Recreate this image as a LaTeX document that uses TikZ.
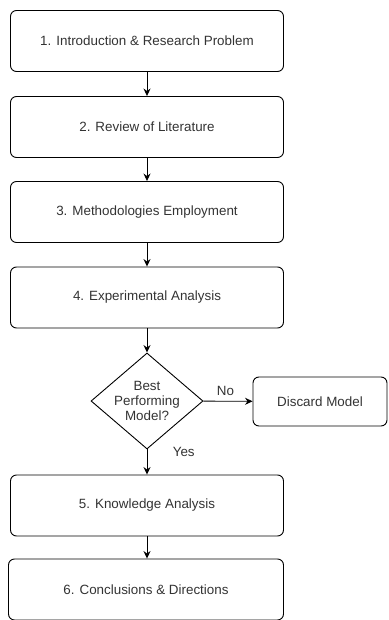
\documentclass[tikz,border=0pt]{standalone}
\usepackage{fontspec}
\setmainfont{Liberation Sans}
\usepackage{tikz}
\usetikzlibrary{shapes.geometric, arrows.meta}

\begin{document}
\begin{tikzpicture}[x=1pt, y=-1pt,
    stepbox/.style={draw, rounded corners=6pt, line width=0.9pt, minimum width=273pt, minimum height=61pt, inner sep=0pt, font=\fontsize{13.4}{15}\selectfont, text=black!80},
    decision/.style={draw, diamond, aspect=1.17, line width=0.9pt, minimum width=112pt, minimum height=96pt, inner sep=0pt, align=center, font=\fontsize{13.4}{15}\selectfont, text=black!80},
    flow/.style={-{Stealth[length=7.5pt, width=7pt]}, line width=0.9pt},
    lbl/.style={font=\fontsize{13.4}{15}\selectfont, text=black!80}]
    \useasboundingbox (0,0) rectangle (388,620);
    \node[stepbox] (intro) at (147,41) {1. Introduction \& Research Problem};
    \node[stepbox] (review) at (147,127) {2. Review of Literature};
    \node[stepbox] (method) at (147,212) {3. Methodologies Employment};
    \node[stepbox] (exper) at (147,297.5) {4. Experimental Analysis};
    \node[decision] (best) at (147,401) {Best\\Performing\\Model?};
    \node[stepbox, minimum width=134pt, minimum height=49pt] (discard) at (320,401.5) {Discard Model};
    \node[stepbox] (know) at (147,505.5) {5. Knowledge Analysis};
    \node[stepbox, minimum width=275pt] (concl) at (146,589.5) {6. Conclusions \& Directions};
    \draw[flow] (intro) -- (review);
    \draw[flow] (review) -- (method);
    \draw[flow] (method) -- (exper);
    \draw[flow] (exper) -- (best);
    \draw[flow] (best) -- (discard) node[lbl, pos=0.45, above=2pt] {No};
    \draw[flow] (best) -- (know) node[lbl, pos=0.1, right=22pt] {Yes};
    \draw[flow] (know) -- (concl.north -| know);
\end{tikzpicture}
\end{document}
